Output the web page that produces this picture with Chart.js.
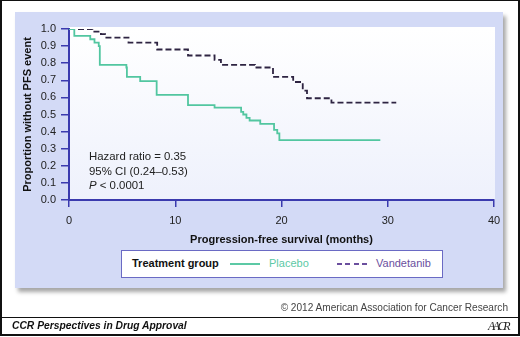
<!DOCTYPE html>
<html>
<head>
<meta charset="utf-8">
<script src="https://cdn.jsdelivr.net/npm/chart.js@4.4.1/dist/chart.umd.min.js"></script>
<style>
  body { margin: 0; width: 520px; height: 337px; position: relative; overflow: hidden; background: #fff;
         font-family: "Liberation Sans", Arial, Helvetica, sans-serif; }
  #frame { position: absolute; left: 0; top: 0; width: 516px; height: 333px; border: 2px solid #111; border-top-width: 1px; }
  #panel { position: absolute; left: 15px; top: 12px; width: 488px; height: 276px; background: #d3daf6;
           box-shadow: 3px 4px 4px rgba(0,0,0,0.35); }
  #chart { position: absolute; left: 0; top: 0; }
  .stat { position: absolute; left: 89px; font-size: 11.4px; color: #222; line-height: 14.5px; }
  #legend { position: absolute; left: 121px; top: 250px; width: 320px; height: 26px; background: #fff;
            border: 1px solid #6a6ac4; font-size: 11px; }
  #legend span { position: absolute; top: 6px; white-space: nowrap; }
  .swatch { position: absolute; top: 12px; height: 2px; }
  #copy { position: absolute; right: 12px; top: 302px; font-size: 10.1px; color: #444; }
  #rule { position: absolute; left: 0; top: 317px; width: 520px; height: 1px; background: #111; }
  #footer { position: absolute; left: 12px; top: 320px; font-size: 10.3px; font-weight: bold; font-style: italic; color: #111; }
  #logo { position: absolute; right: 12px; top: 319px; font-family: "Liberation Serif", serif; font-style: italic;
          font-size: 12px; letter-spacing: -2.5px; color: #222; }
</style>
</head>
<body>
<div id="frame"></div>
<div id="panel"></div>
<canvas id="chart" width="520" height="337"></canvas>
<div class="stat" style="top:149px">Hazard ratio = 0.35</div>
<div class="stat" style="top:163.5px">95% CI (0.24–0.53)</div>
<div class="stat" style="top:178px"><i>P</i> &lt; 0.0001</div>
<div id="legend">
  <span style="left:10px;font-weight:bold;color:#111">Treatment group</span>
  <div class="swatch" style="left:108px;width:30px;background:#5cc9a5"></div>
  <span style="left:147px;color:#5cc9a5">Placebo</span>
  <div class="swatch" style="left:215px;width:30px;background:repeating-linear-gradient(90deg,#6b4f9e 0 5px,transparent 5px 8.5px)"></div>
  <span style="left:254px;color:#6b4f9e">Vandetanib</span>
</div>
<div id="copy">© 2012 American Association for Cancer Research</div>
<div id="rule"></div>
<div id="footer">CCR Perspectives in Drug Approval</div>
<div id="logo">AACR</div>
<script>
// Kaplan-Meier steps (months, proportion without PFS event)
const placeboMonths = [0, 0.5, 2.0, 2.4, 2.8, 2.9, 5.4, 5.45, 6.7, 8.25, 11.2, 13.7, 16.2, 16.4, 16.7, 17.0, 18.0, 19.3, 19.6, 19.8, 29.3];
const placeboSurv   = [1.0, 0.96, 0.94, 0.92, 0.90, 0.79, 0.775, 0.72, 0.695, 0.615, 0.555, 0.54, 0.515, 0.50, 0.48, 0.465, 0.445, 0.41, 0.39, 0.35, 0.35];
const vandetanibMonths = [0, 2.2, 3.0, 3.4, 5.6, 8.3, 11.2, 13.7, 14.3, 17.5, 19.2, 21.1, 22.0, 22.4, 24.7, 30.8];
const vandetanibSurv   = [1.0, 0.985, 0.97, 0.95, 0.92, 0.88, 0.845, 0.82, 0.79, 0.775, 0.72, 0.69, 0.64, 0.595, 0.57, 0.57];
const xTicks = [0, 10, 20, 30, 40];
const yTicks = [0, 0.1, 0.2, 0.3, 0.4, 0.5, 0.6, 0.7, 0.8, 0.9, 1.0];

const axisColor = "#3a3aae";
const font = { family: "Liberation Sans", size: 11 };

function toPoints(xs, ys) {
  return xs.map((x, i) => ({ x: x, y: ys[i] }));
}

const plotBg = {
  id: "plotBg",
  beforeDraw(chart) {
    const a = chart.chartArea;
    const ctx = chart.ctx;
    const g = ctx.createLinearGradient(0, a.top, 0, a.bottom);
    g.addColorStop(0, "#ffffff");
    g.addColorStop(1, "#eef1fc");
    ctx.save();
    ctx.fillStyle = g;
    ctx.fillRect(a.left, a.top - 2, a.right - a.left + 1, a.bottom - a.top + 2);
    ctx.restore();
  }
};

new Chart(document.getElementById("chart"), {
  type: "line",
  data: {
    datasets: [
      {
        label: "Placebo",
        data: toPoints(placeboMonths, placeboSurv),
        borderColor: "#52c6a0",
        borderWidth: 1.8,
        stepped: "before",
        pointRadius: 0
      },
      {
        label: "Vandetanib",
        data: toPoints(vandetanibMonths, vandetanibSurv),
        borderColor: "#2e2442",
        borderWidth: 1.8,
        borderDash: [6, 3],
        stepped: "before",
        pointRadius: 0
      }
    ]
  },
  options: {
    responsive: false,
    animation: false,
    layout: { padding: { left: 15, top: 29, right: 26, bottom: 87 } },
    plugins: { legend: { display: false }, tooltip: { enabled: false } },
    scales: {
      x: {
        type: "linear",
        min: 0,
        max: 40,
        afterFit: (s) => { s.height = 50; },
        afterBuildTicks: (s) => { s.ticks = xTicks.map(v => ({ value: v })); },
        ticks: { color: "#222", font: font, padding: 7 },
        grid: { drawOnChartArea: false, drawTicks: true, tickLength: 7, color: axisColor, lineWidth: 1.5 },
        border: { color: axisColor, width: 2 },
        title: { display: true, text: "Progression-free survival (months)", color: "#111",
                 font: { family: "Liberation Sans", size: 11, weight: "bold" }, padding: { top: 0, bottom: 3 } }
      },
      y: {
        min: 0,
        max: 1,
        afterFit: (s) => { s.width = 54; },
        afterBuildTicks: (s) => { s.ticks = yTicks.map(v => ({ value: v })); },
        ticks: { color: "#222", font: font, padding: 5, callback: (v) => v.toFixed(1) },
        grid: { drawOnChartArea: false, drawTicks: true, tickLength: 8, color: axisColor, lineWidth: 1.5 },
        border: { color: axisColor, width: 2 },
        title: { display: true, text: "Proportion without PFS event", color: "#111",
                 font: { family: "Liberation Sans", size: 11, weight: "bold" }, padding: { top: 6, bottom: 0 } }
      }
    }
  },
  plugins: [plotBg]
});
</script>
</body>
</html>
